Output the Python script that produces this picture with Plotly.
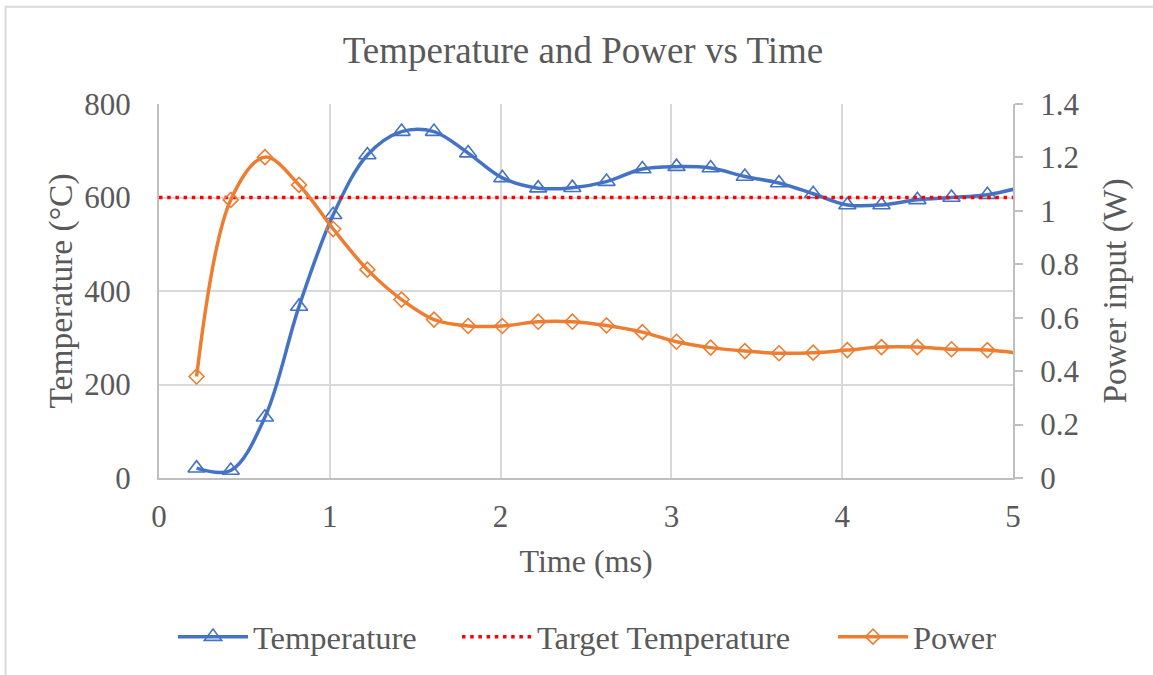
import plotly.graph_objects as go

# ---- data ----
time_ms = [0.22, 0.42, 0.62, 0.82, 1.02, 1.22, 1.42, 1.61, 1.81, 2.01, 2.22, 2.42,
           2.62, 2.83, 3.03, 3.23, 3.43, 3.63, 3.83, 4.03, 4.23, 4.44, 4.64, 4.85, 5.05]
temperature = [21, 16, 130, 367, 563, 691, 741, 741, 695, 642, 620, 621,
               634, 661, 666, 663, 645, 631, 608, 584, 584, 595, 600, 606, 622]
power = [0.380, 1.041, 1.201, 1.097, 0.932, 0.780, 0.668, 0.593, 0.569, 0.569, 0.585, 0.585,
         0.571, 0.546, 0.510, 0.488, 0.475, 0.467, 0.469, 0.479, 0.490, 0.490, 0.482, 0.479, 0.466]
target_x = [0, 5]
target_temperature = [600, 600]

x_ticks = [0, 1, 2, 3, 4, 5]
y_ticks = [0, 200, 400, 600, 800]
y2_ticks = [0, 0.2, 0.4, 0.6, 0.8, 1, 1.2, 1.4]

BLUE = "#4472C4"
ORANGE = "#ED7D31"
RED = "#FF0000"
GRID = "#D9D9D9"
AXIS = "#BFBFBF"
TEXT = "#595959"
FONT = "Liberation Serif"

fig = go.Figure()

fig.add_trace(go.Scatter(
    x=time_ms, y=temperature, name="Temperature", mode="lines+markers", legend="legend",
    line=dict(color=BLUE, width=3.5, shape="spline", smoothing=1),
    marker=dict(symbol="triangle-up-open", size=15, color=BLUE, line=dict(width=1.6, color=BLUE)),
))
fig.add_trace(go.Scatter(
    x=target_x, y=target_temperature, name="Target Temperature", mode="lines", legend="legend2",
    line=dict(color=RED, width=3.5, dash="3.5px,4.7px"),
))
fig.add_trace(go.Scatter(
    x=time_ms, y=power, name="Power", mode="lines+markers", yaxis="y2", legend="legend3",
    line=dict(color=ORANGE, width=3.5, shape="spline", smoothing=1),
    marker=dict(symbol="diamond-open", size=11.5, color=ORANGE, line=dict(width=1.6, color=ORANGE)),
))

L, R, T, B = 159, 140, 104, 196
W, H = 1153, 675
pw = W - L - R
ph = H - T - B

def px_x(p):
    return (p - L) / pw

def px_y(p):
    return (H - B - p) / ph

LEG_OFF = 5

def legend_at(px_left):
    return dict(orientation="h", x=px_x(px_left - LEG_OFF), xanchor="left",
                y=px_y(637), yanchor="middle",
                font=dict(size=32.5, color=TEXT, family=FONT), itemwidth=70,
                bgcolor="rgba(0,0,0,0)")

fig.update_layout(
    width=W, height=H,
    margin=dict(l=L, r=R, t=T, b=B, pad=0),
    paper_bgcolor="white", plot_bgcolor="white",
    font=dict(family=FONT, color=TEXT, size=31),
    title=dict(text="Temperature and Power vs Time", font=dict(size=37, color=TEXT, family=FONT),
               x=583 / W, xanchor="center", xref="container",
               y=1 - 50 / H, yanchor="middle", yref="container"),
    xaxis=dict(range=[0, 5], tickvals=x_ticks, showgrid=True, gridcolor=GRID, gridwidth=1.5,
               showline=True, linecolor=AXIS, linewidth=2, ticks="", zeroline=False,
               tickfont=dict(size=31, color=TEXT), ticklabelstandoff=10,
               title=dict(text="Time (ms)", font=dict(size=32, color=TEXT), standoff=16)),
    yaxis=dict(range=[0, 800], tickvals=y_ticks, showgrid=True, gridcolor=GRID, gridwidth=1.5,
               showline=True, linecolor=AXIS, linewidth=2, ticks="", zeroline=False,
               tickfont=dict(size=31, color=TEXT), ticklabelstandoff=20,
               title=dict(text="Temperature (°C)", font=dict(size=33.5, color=TEXT), standoff=2)),
    yaxis2=dict(range=[0, 1.4], tickvals=y2_ticks, overlaying="y", side="right", showgrid=False,
                showline=True, linecolor=AXIS, linewidth=2, ticks="outside", ticklen=8,
                tickcolor=AXIS, tickwidth=1.5, zeroline=False,
                tickfont=dict(size=31, color=TEXT), ticklabelstandoff=11,
                title=dict(text="Power input (W)", font=dict(size=33.5, color=TEXT), standoff=24)),
    legend=legend_at(178),
    legend2=legend_at(462),
    legend3=legend_at(838),
    showlegend=True,
    shapes=[dict(type="rect", xref="paper", yref="paper",
                 x0=px_x(5.5), x1=px_x(1165), y0=px_y(690), y1=px_y(6.5),
                 line=dict(color=GRID, width=2), fillcolor="rgba(0,0,0,0)", layer="below")],
)

fig.write_html("out.html")
